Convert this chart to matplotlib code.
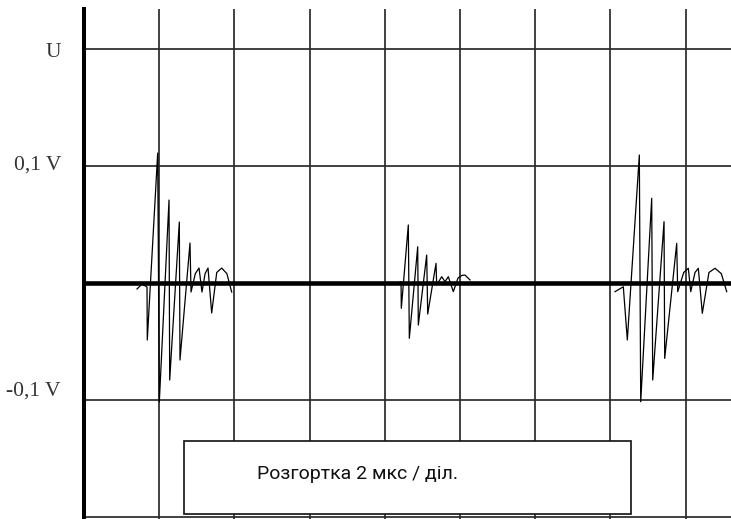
import matplotlib
matplotlib.use("Agg")
import matplotlib.pyplot as plt
from matplotlib.patches import Rectangle

# time in microseconds (2 us per division), voltage in volts
t1 = [1.410, 1.543, 1.676, 1.683, 1.960, 2.003, 2.261, 2.279, 2.535, 2.553, 2.819, 2.846,
      2.960, 3.059, 3.138, 3.220, 3.298, 3.396, 3.530, 3.662, 3.800, 3.928]
v1 = [-0.0051, -0.0009, -0.0034, -0.0487, 0.1111, -0.1017, 0.0709, -0.0829, 0.0521, -0.0658,
      0.0342, -0.0077, 0.0080, 0.0128, -0.0077, 0.0080, 0.0128, -0.0256, 0.0090, 0.0128,
      0.0080, -0.0077]

t2 = [8.351, 8.431, 8.439, 8.625, 8.652, 8.875, 8.891, 9.114, 9.141, 9.362, 9.380, 9.513,
      9.601, 9.689, 9.822, 9.947, 10.050, 10.133, 10.266]
v2 = [0.0000, 0.0011, -0.0216, 0.0496, -0.0473, 0.0310, -0.0359, 0.0239, -0.0265, 0.0168,
      -0.0017, 0.0054, 0.0011, 0.0054, -0.0074, 0.0043, 0.0065, 0.0068, 0.0026]

t3 = [14.122, 14.343, 14.450, 14.769, 14.806, 15.098, 15.125, 15.426, 15.444, 15.763, 15.790,
      15.950, 16.072, 16.136, 16.250, 16.338, 16.444, 16.620, 16.782, 16.950, 17.093]
v3 = [-0.0074, -0.0032, -0.0487, 0.1094, -0.1015, 0.0724, -0.0829, 0.0524, -0.0644, 0.0339,
      -0.0074, 0.0090, 0.0126, -0.0074, 0.0090, 0.0126, -0.0259, 0.0090, 0.0126, 0.0080,
      -0.0074]

x_grid = [2, 4, 6, 8, 10, 12, 14, 16]
y_grid = [0.2, 0.1, -0.1, -0.2]
y_labels = ["U", "0,1 V", "-0,1 V"]
y_label_pos = [0.197, 0.101, -0.092]
caption = "Розгортка 2 мкс / діл."
box_x = [2.660, 14.548]
box_y = [-0.1975, -0.1350]

W, H = 731, 519
fig = plt.figure(figsize=(W / 100, H / 100), dpi=100)
fig.patch.set_facecolor("white")
ax = fig.add_axes([84 / W, 0, (W - 84) / W, (H - 9) / H])
ax.set_xlim(0, 17.207)
ax.set_ylim(-0.2017, 0.2342)
ax.axis("off")

for x in x_grid:
    ax.axvline(x, color="#2a2a2a", lw=1.25, zorder=1)
for y in y_grid:
    ax.axhline(y, color="#2a2a2a", lw=1.25, zorder=1)

ax.add_patch(Rectangle((box_x[0], box_y[0]), box_x[1] - box_x[0], box_y[1] - box_y[0],
                       facecolor="white", edgecolor="#1a1a1a", lw=1.25, zorder=2))
ax.text(4.601, -0.1630, caption, ha="left", va="center", fontsize=14,
        family=["Roboto", "DejaVu Sans"], color="#111111", zorder=3)

for t, v in ((t1, v1), (t2, v2), (t3, v3)):
    ax.plot(t, v, color="black", lw=0.9, zorder=4)

ax.axhline(0, color="black", lw=3.3, zorder=5)
ax.axvline(0, color="black", lw=2.9, zorder=5, clip_on=False)

for lab, yv in zip(y_labels, y_label_pos):
    ax.text(-23.0 / 75.2 * 2, yv, lab, ha="right", va="center", fontsize=15.5,
            family=["Liberation Serif", "DejaVu Serif"], color="#333333", clip_on=False)

fig.savefig("out.png", dpi=100, facecolor="white")
